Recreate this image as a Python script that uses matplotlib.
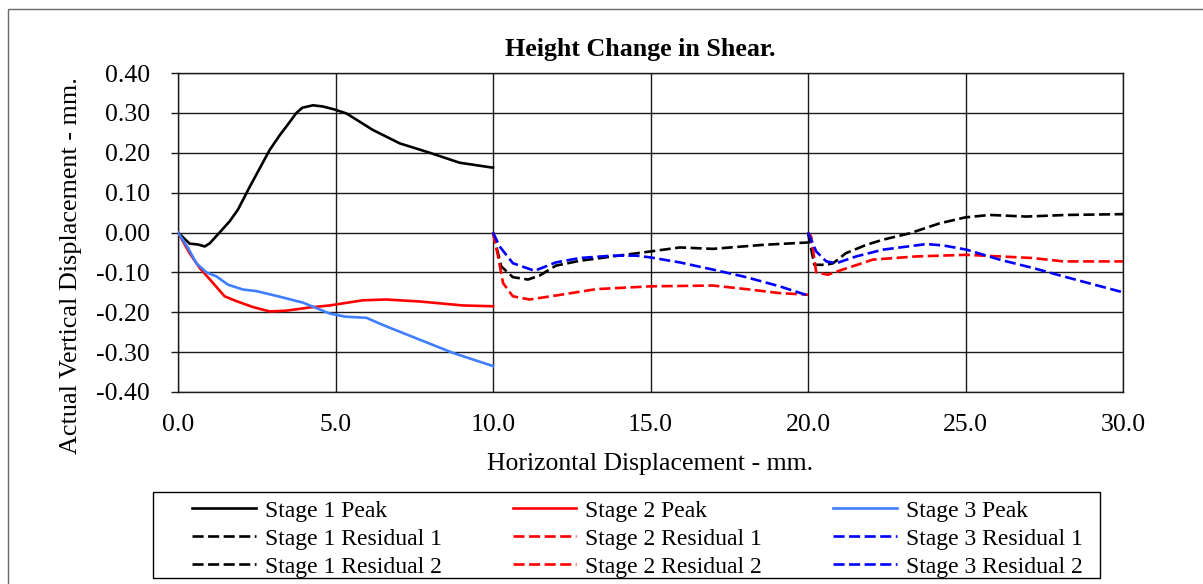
import matplotlib
matplotlib.use("Agg")
import matplotlib.pyplot as plt
from matplotlib.lines import Line2D
from matplotlib.patches import Rectangle

plt.rcParams['font.family'] = ['Liberation Serif', 'DejaVu Serif']

# ---- data (horizontal displacement mm, vertical displacement mm) ----
s1_peak_x = [0, 0.37, 0.63, 0.85, 1.01, 1.32, 1.64, 1.9, 2.28, 2.91, 3.23, 3.55, 3.76,
             3.95, 4.29, 4.6, 4.97, 5.35, 6.19, 7.04, 7.99, 8.94, 10.0]
s1_peak_y = [0, -0.028, -0.030, -0.035, -0.027, 0.0, 0.028, 0.057, 0.115, 0.207, 0.244,
             0.2775, 0.300, 0.313, 0.319, 0.316, 0.3085, 0.2985, 0.257, 0.2235, 0.200,
             0.175, 0.1625]

s2_peak_x = [0, 0.37, 0.69, 1.06, 1.48, 1.85, 2.38, 2.91, 3.44, 4.18, 4.81, 5.87, 6.6,
             7.67, 9.05, 10.0]
s2_peak_y = [0, -0.052, -0.089, -0.122, -0.160, -0.172, -0.187, -0.198, -0.196, -0.188,
             -0.183, -0.170, -0.168, -0.173, -0.183, -0.185]

s3_peak_x = [0, 0.32, 0.58, 0.9, 1.22, 1.59, 2.06, 2.49, 3.23, 3.97, 4.81, 5.3, 5.98,
             6.6, 8.73, 10.0]
s3_peak_y = [0, -0.039, -0.077, -0.100, -0.110, -0.131, -0.143, -0.147, -0.161, -0.176,
             -0.203, -0.211, -0.214, -0.235, -0.302, -0.335]

s1_res1_x = [10.0, 10.26, 10.63, 11.11, 11.48, 12.0, 12.75, 13.8, 15.0, 15.93, 16.98, 18.57, 20.0]
s1_res1_y = [0, -0.085, -0.112, -0.118, -0.108, -0.083, -0.071, -0.060, -0.0475,
             -0.0375, -0.041, -0.031, -0.025]

s2_res1_x = [10.0, 10.16, 10.32, 10.63, 11.16, 12.0, 13.28, 15.0, 16.98, 18.04, 19.1, 20.0]
s2_res1_y = [0, -0.06, -0.127, -0.16, -0.168, -0.158, -0.142, -0.135, -0.133,
             -0.142, -0.152, -0.156]

s3_res1_x = [10.0, 10.21, 10.63, 11.32, 12.0, 12.75, 13.8, 14.55, 15.0, 15.93, 16.98,
             18.04, 19.1, 20.0]
s3_res1_y = [0, -0.035, -0.077, -0.096, -0.075, -0.064, -0.058, -0.058, -0.0625,
             -0.075, -0.093, -0.112, -0.135, -0.158]

s1_res2_x = [20.0, 20.2, 20.58, 20.8, 21.2, 21.85, 22.38, 23.23, 24.18, 25.0, 25.77,
             26.93, 28.2, 30.0]
s1_res2_y = [0, -0.081, -0.081, -0.077, -0.052, -0.031, -0.018, -0.002, 0.023, 0.038,
             0.044, 0.040, 0.044, 0.046]

s2_res2_x = [20.0, 20.1, 20.26, 20.63, 21.1, 22.06, 23.44, 25.03, 26.08, 27.14, 28.1, 30.0]
s2_res2_y = [0, -0.01, -0.10, -0.106, -0.093, -0.068, -0.060, -0.056, -0.060,
             -0.064, -0.0725, -0.0725]

s3_res2_x = [20.0, 20.26, 20.58, 20.9, 21.53, 22.38, 23.76, 24.3, 25.03, 26.08, 27.14,
             28.2, 30.0]
s3_res2_y = [0, -0.0475, -0.0725, -0.077, -0.060, -0.043, -0.029, -0.0325, -0.043,
             -0.068, -0.089, -0.112, -0.150]

x_ticks = [0, 5, 10, 15, 20, 25, 30]
y_ticks = [-0.4, -0.3, -0.2, -0.1, 0.0, 0.1, 0.2, 0.3, 0.4]

# ---- figure ----
W, H = 1203, 584
fig = plt.figure(figsize=(W / 100, H / 100), dpi=100)

# chart-area frame
fig.patches.append(Rectangle((8 / W, -0.1), 1.2, 1 - 9 / H + 0.1,
                             transform=fig.transFigure, fill=False,
                             edgecolor='#6a6a6a', linewidth=1.0))

ax = fig.add_axes([178 / W, 1 - 392 / H, (1123 - 178) / W, (392 - 73) / H])

lw = 1.9
dash = (0, (4.2, 1.7))
black, red, lblue, blue = '#000000', '#FF0000', '#3F7FFF', '#0000FF'

series = [
    (s1_peak_x, s1_peak_y, black, '-', 'Stage 1 Peak'),
    (s1_res1_x, s1_res1_y, black, dash, 'Stage 1 Residual 1'),
    (s1_res2_x, s1_res2_y, black, dash, 'Stage 1 Residual 2'),
    (s2_peak_x, s2_peak_y, red, '-', 'Stage 2 Peak'),
    (s2_res1_x, s2_res1_y, red, dash, 'Stage 2 Residual 1'),
    (s2_res2_x, s2_res2_y, red, dash, 'Stage 2 Residual 2'),
    (s3_peak_x, s3_peak_y, lblue, '-', 'Stage 3 Peak'),
    (s3_res1_x, s3_res1_y, blue, dash, 'Stage 3 Residual 1'),
    (s3_res2_x, s3_res2_y, blue, dash, 'Stage 3 Residual 2'),
]

handles = []
for xs, ys, c, ls, lab in series:
    ax.plot(xs, ys, color=c, linestyle=ls, linewidth=lw, zorder=3,
            solid_joinstyle='round', dash_joinstyle='round')
    handles.append(Line2D([], [], color=c, linestyle=ls, linewidth=lw, label=lab))

ax.set_xlim(0, 30)
ax.set_ylim(-0.4, 0.4)
ax.set_xticks(x_ticks)
ax.set_xticklabels([f"{v:.1f}" for v in x_ticks])
ax.set_yticks(y_ticks)
ax.set_yticklabels([f"{v:.2f}" for v in y_ticks])

ax.grid(True, color='#1a1a1a', linewidth=1.0, zorder=1)
ax.set_axisbelow(True)
for sp in ax.spines.values():
    sp.set_color('#1a1a1a')
    sp.set_linewidth(1.0)

ax.tick_params(axis='y', direction='out', length=5, width=1.0, pad=15,
               labelsize=18.5, color='#1a1a1a')
ax.tick_params(axis='x', length=0, pad=16, labelsize=18.5)

fig.text(640 / W, 1 - 56 / H, 'Height Change in Shear.', fontsize=18.7,
         fontweight='bold', ha='center', va='baseline')
ax.set_xlabel('Horizontal Displacement - mm.', fontsize=18.5, labelpad=12)
ax.set_ylabel('Actual Vertical Displacement - mm.', fontsize=18.8)
ax.yaxis.set_label_coords((82 - 178) / 945, (392 - 266) / 319)

# legend box
fig.patches.append(Rectangle((153 / W, 1 - 578 / H), (1100 - 153) / W, (578 - 492) / H,
                             transform=fig.transFigure, fill=False,
                             edgecolor='#000000', linewidth=1.0))
fig.legend(handles=handles, ncol=3, loc='upper left',
           bbox_to_anchor=(192 / W, 1 - 500 / H),
           fontsize=17, frameon=False, handlelength=2.7,
           handletextpad=0.38, labelspacing=0.275, borderpad=0,
           columnspacing=3.0, borderaxespad=0)

fig.savefig('out.png', dpi=100)
